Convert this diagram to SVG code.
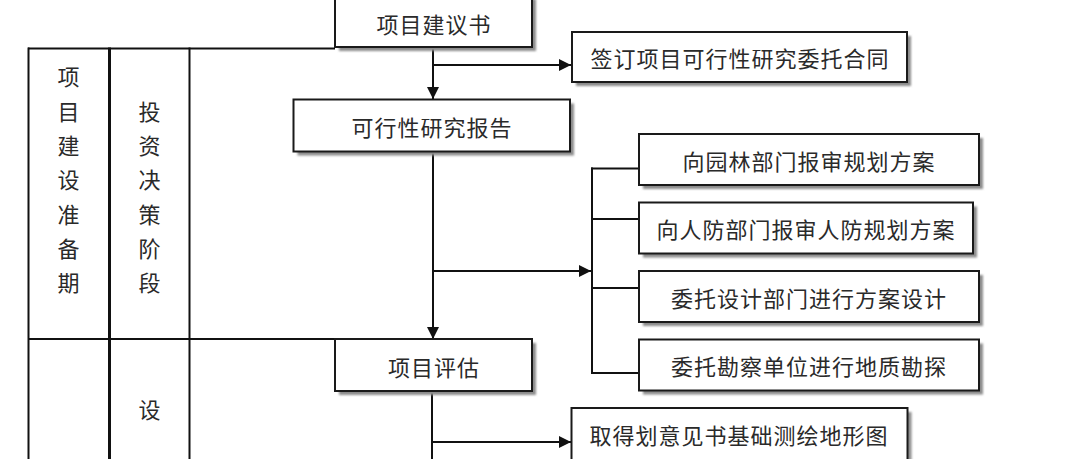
<svg xmlns="http://www.w3.org/2000/svg" width="1080" height="459" viewBox="0 0 1080 459">
<defs>
<style>
.sh{fill:#8c8c8c;filter:url(#blur);}
.bx{fill:#fff;stroke:#1a1a1a;stroke-width:2;}
.t{font-family:"Noto Sans CJK SC","Noto Sans",sans-serif;font-size:22px;fill:#2a2a2a;letter-spacing:1px;text-anchor:middle;dominant-baseline:central;}
.ln{stroke:#111;stroke-width:2;fill:none;}
.fr{stroke:#111;stroke-width:2;fill:none;}
</style>
<filter id="blur" x="-5%" y="-20%" width="110%" height="140%"><feGaussianBlur stdDeviation="1"/></filter>
<marker id="arr" viewBox="0 0 12 12" markerWidth="12" markerHeight="12" refX="12" refY="6" orient="auto" markerUnits="userSpaceOnUse">
<path d="M0,0 L12,6 L0,12 Z" fill="#111"/>
</marker>
</defs>
<rect width="1080" height="459" fill="#fff"/>

<g id="frame">
<line class="fr" x1="28" y1="48.5" x2="335" y2="48.5"/>
<line class="fr" x1="28" y1="339" x2="335" y2="339"/>
<line class="fr" x1="28.5" y1="47.5" x2="28.5" y2="459"/>
<line class="fr" x1="109.5" y1="47.5" x2="109.5" y2="459" style="stroke-width:3"/>
<line class="fr" x1="189.5" y1="47.5" x2="189.5" y2="459"/>
</g>
<g id="col1">
<text class="t" x="69" y="75">项</text>
<text class="t" x="69" y="109.5">目</text>
<text class="t" x="69" y="144">建</text>
<text class="t" x="69" y="178">设</text>
<text class="t" x="69" y="212.5">准</text>
<text class="t" x="69" y="246.5">备</text>
<text class="t" x="69" y="281">期</text>
</g>
<g id="col2">
<text class="t" x="150" y="109.5">投</text>
<text class="t" x="150" y="144">资</text>
<text class="t" x="150" y="178">决</text>
<text class="t" x="150" y="212.5">策</text>
<text class="t" x="150" y="246.5">阶</text>
<text class="t" x="150" y="281">段</text>
<text class="t" x="150" y="408">设</text>
</g>

<g id="connectors">
<line class="ln" x1="433" y1="47" x2="433" y2="99" marker-end="url(#arr)"/>
<line class="ln" x1="433" y1="65" x2="571" y2="65" marker-end="url(#arr)"/>
<line class="ln" x1="433" y1="152" x2="433" y2="339" marker-end="url(#arr)"/>
<line class="ln" x1="433" y1="271" x2="591" y2="271" marker-end="url(#arr)"/>
<line class="ln" x1="592" y1="167.5" x2="592" y2="374"/>
<line class="ln" x1="591" y1="168.5" x2="639" y2="168.5"/>
<line class="ln" x1="591" y1="219" x2="639" y2="219"/>
<line class="ln" x1="591" y1="288" x2="639" y2="288"/>
<line class="ln" x1="591" y1="373" x2="639" y2="373"/>
<line class="ln" x1="432" y1="391" x2="432" y2="459"/>
<line class="ln" x1="432" y1="442" x2="571" y2="442" marker-end="url(#arr)"/>
</g>

<g id="n_jianyishu">
<rect class="sh" x="339" y="-1" width="197" height="52"/>
<rect class="bx" x="335" y="-5" width="197" height="52"/>
<text class="t" x="434" y="23">项目建议书</text>
</g>
<g id="n_qianding">
<rect class="sh" x="576" y="36" width="335" height="50"/>
<rect class="bx" x="572" y="32" width="335" height="50"/>
<text class="t" x="740" y="57">签订项目可行性研究委托合同</text>
</g>
<g id="n_kexing">
<rect class="sh" x="297.5" y="103.5" width="276.5" height="52"/>
<rect class="bx" x="293.5" y="99.5" width="276.5" height="52"/>
<text class="t" x="432" y="126">可行性研究报告</text>
</g>
<g id="n_yuanlin">
<rect class="sh" x="643" y="138" width="340" height="51"/>
<rect class="bx" x="639" y="134" width="340" height="51"/>
<text class="t" x="809" y="159.5">向园林部门报审规划方案</text>
</g>
<g id="n_renfang">
<rect class="sh" x="643" y="206.5" width="334" height="51"/>
<rect class="bx" x="639" y="202.5" width="334" height="51"/>
<text class="t" x="806" y="228">向人防部门报审人防规划方案</text>
</g>
<g id="n_sheji">
<rect class="sh" x="643" y="275" width="340" height="51"/>
<rect class="bx" x="639" y="271" width="340" height="51"/>
<text class="t" x="809" y="296.5">委托设计部门进行方案设计</text>
</g>
<g id="n_kancha">
<rect class="sh" x="643" y="343.5" width="340" height="51"/>
<rect class="bx" x="639" y="339.5" width="340" height="51"/>
<text class="t" x="809" y="365">委托勘察单位进行地质勘探</text>
</g>
<g id="n_pinggu">
<rect class="sh" x="339" y="343" width="197" height="52"/>
<rect class="bx" x="335" y="339" width="197" height="52"/>
<text class="t" x="434" y="366">项目评估</text>
</g>
<g id="n_qude">
<rect class="sh" x="575.5" y="412" width="336" height="60"/>
<rect class="bx" x="571.5" y="408" width="336" height="60"/>
<text class="t" x="739" y="434">取得划意见书基础测绘地形图</text>
</g>
</svg>
